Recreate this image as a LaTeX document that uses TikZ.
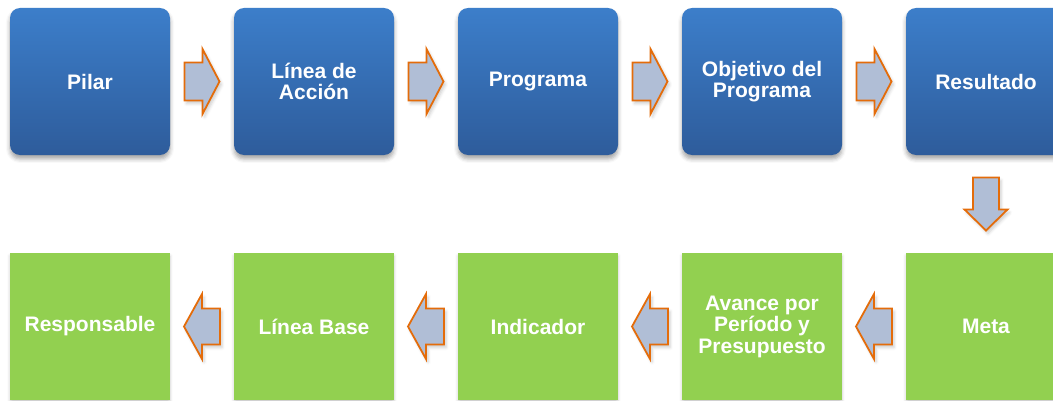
\documentclass[tikz,border=0pt]{standalone}
\usepackage{fontspec}
\setmainfont{Liberation Sans}
\usetikzlibrary{calc,shadows.blur}
\definecolor{bluetop}{RGB}{60,126,202}
\definecolor{bluebot}{RGB}{46,92,155}
\definecolor{boxgreen}{RGB}{146,208,80}
\definecolor{arrfill}{RGB}{176,190,214}
\definecolor{arrline}{RGB}{228,108,10}
\begin{document}
\begin{tikzpicture}[x=1pt,y=1pt,
  boxtext/.style={text=white, font=\bfseries\fontsize{21}{21.5}\selectfont, align=center,
    minimum width=160pt, minimum height=147pt, inner sep=0pt},
  bluebox/.style={boxtext, rounded corners=10pt, top color=bluetop, bottom color=bluebot,
    blur shadow={shadow xshift=0pt, shadow yshift=-4pt, shadow opacity=35, shadow blur radius=4pt}},
  greenbox/.style={boxtext, fill=boxgreen,
    blur shadow={shadow xshift=0pt, shadow yshift=-3pt, shadow opacity=20, shadow blur radius=3pt}},
  pics/barrow/.style n args={4}{code={
    \filldraw[fill=arrfill, draw=arrline, line width=1.8pt,
      blur shadow={shadow xshift=2pt, shadow yshift=-3pt, shadow opacity=20, shadow blur radius=3pt}]
      (-#1,-#3) -- ({#1-#2},-#3) -- ({#1-#2},-#4) -- (#1,0) -- ({#1-#2},#4) -- ({#1-#2},#3) -- (-#1,#3) -- cycle;
  }}]
\useasboundingbox (0,0) rectangle (1053,400);
\clip (0,0) rectangle (1053,400);

% top row
\node[bluebox] (t1) at (90,318.5) {Pilar};
\node[bluebox] (t2) at (314,318.5) {Línea de\\Acción};
\node[bluebox] (t3) at (538,318.5) {Programa};
\node[bluebox] (t4) at (762,318.5) {Objetivo del\\Programa};
\node[bluebox] (t5) at (986,318.5) {Resultado};

% bottom row
\node[greenbox] (b1) at (90,73.5) {Responsable};
\node[greenbox] (b2) at (314,73.5) {Línea Base};
\node[greenbox] (b3) at (538,73.5) {Indicador};
\node[greenbox] (b4) at (762,73.5) {Avance por\\Período y\\Presupuesto};
\node[greenbox] (b5) at (986,73.5) {Meta};

% right arrows
\foreach \a/\b in {t1/t2,t2/t3,t3/t4,t4/t5}
  \pic at ($(\a.east)!0.5!(\b.west)$) {barrow={17.5}{17}{19}{32.5}};

% down arrow
\pic[rotate=-90] at ($(t5.south)!0.5!(b5.north)$) {barrow={26.5}{21}{13}{21.5}};

% left arrows
\foreach \a/\b in {b5/b4,b4/b3,b3/b2,b2/b1}
  \pic[rotate=180] at ($(\a.west)!0.5!(\b.east)$) {barrow={18}{18}{18}{32.5}};
\end{tikzpicture}
\end{document}
